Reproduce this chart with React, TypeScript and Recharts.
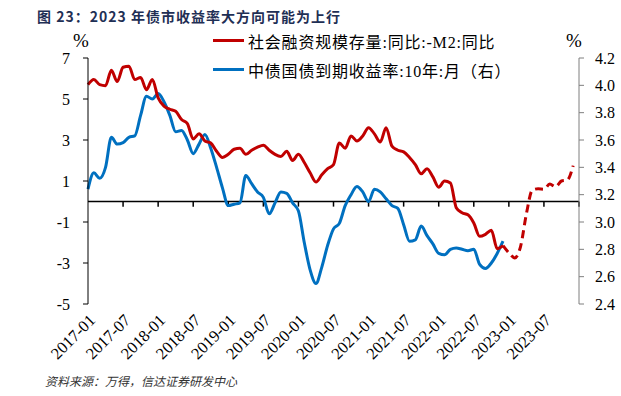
import React from "react";
import {
  LineChart,
  Line,
  XAxis,
  YAxis,
  ReferenceLine,
} from "recharts";

// x tick labels (every 6 months, index 0 = 2017-01)
const tickLabels = [
  "2017-01", "2017-07", "2018-01", "2018-07", "2019-01", "2019-07", "2020-01",
  "2020-07", "2021-01", "2021-07", "2022-01", "2022-07", "2023-01", "2023-07",
];
const tickIdx = tickLabels.map((_, i) => i * 6);

// 社融存量同比 - M2同比, monthly 2017-01 .. 2022-12
const tsfMinusM2 = [
  5.7, 5.95, 5.7, 5.65, 6.4, 5.85, 6.55, 6.6, 5.95, 6.05, 5.45, 5.95,
  5.05, 4.65, 4.5, 4.4, 4.0, 3.8, 3.05, 3.3, 2.95, 2.85, 2.45, 2.15,
  2.3, 2.55, 2.6, 2.3, 2.5, 2.65, 2.75, 2.5, 2.3, 2.2, 2.45, 2.0,
  2.3, 1.9, 1.4, 0.95, 1.3, 1.6, 1.8, 2.85, 2.6, 3.2, 2.95, 3.2,
  3.6, 3.3, 2.9, 3.6, 2.7, 2.5, 2.42, 2.15, 1.8, 1.35, 1.6, 1.2,
  0.7, 1.0, 0.9, -0.3, -0.55, -0.65, -1.05, -1.7, -1.6, -1.4, -2.3, -2.15,
];

// projection, 2022-12 .. 2023-12
const forecastStart = 71;
const tsfForecast = [-2.15, -2.5, -2.75, -2.2, -0.6, 0.55, 0.62, 0.6, 0.85, 0.72, 1.0, 1.05, 1.75];

// 中债国债到期收益率:10年, monthly 2017-01 .. 2022-12
const cgb10y = [
  3.24, 3.36, 3.32, 3.4, 3.62, 3.57, 3.58, 3.62, 3.63, 3.78, 3.92, 3.9,
  3.94, 3.88, 3.78, 3.66, 3.67, 3.6, 3.5, 3.57, 3.64, 3.54, 3.4, 3.25,
  3.12, 3.13, 3.14, 3.34, 3.28, 3.22, 3.18, 3.06, 3.14, 3.22, 3.21, 3.14,
  3.08, 2.85, 2.65, 2.55, 2.67, 2.83, 2.95, 2.99, 3.12, 3.2, 3.26, 3.22,
  3.15, 3.24, 3.22, 3.17, 3.12, 3.1, 2.98, 2.86, 2.87, 2.97, 2.9, 2.84,
  2.77, 2.76, 2.8, 2.81, 2.8, 2.79, 2.8, 2.69, 2.66, 2.7, 2.77, 2.86,
];

const leftTicks = [-5, -3, -1, 1, 3, 5, 7];
const rightTicks = [2.4, 2.6, 2.8, 3.0, 3.2, 3.4, 3.6, 3.8, 4.0, 4.2];

const RED = "#C00000";
const BLUE = "#0070C0";
const SERIF = '"Liberation Serif", "Times New Roman", "Noto Sans CJK SC", serif';
const CJK = '"Noto Sans CJK SC", "Liberation Sans", sans-serif';

const monthCount = forecastStart + tsfForecast.length;
const chartData = Array.from({ length: monthCount }, (_, i) => ({
  idx: i,
  red: i < tsfMinusM2.length ? tsfMinusM2[i] : null,
  redF: i >= forecastStart ? tsfForecast[i - forecastStart] : null,
  blue: i < cgb10y.length ? cgb10y[i] : null,
}));

const labelFor = (v: number) => tickLabels[v / 6] ?? "";

export default function App() {
  return (
    <div
      style={{
        position: "absolute",
        left: 0,
        top: 0,
        width: 621,
        height: 396,
        background: "#fff",
        fontFamily: SERIF,
      }}
    >
      <div
        style={{
          position: "absolute",
          left: 37,
          top: 6,
          fontFamily: CJK,
          fontWeight: 700,
          fontSize: 14,
          letterSpacing: 1,
          color: "#1f2f55",
          whiteSpace: "nowrap",
        }}
      >
        图 23：2023 年债市收益率大方向可能为上行
      </div>

      <LineChart
        width={621}
        height={396}
        data={chartData}
        margin={{ top: 58, right: 0, bottom: 0, left: 0 }}
      >
        <XAxis
          dataKey="idx"
          type="number"
          domain={[0, 84]}
          ticks={tickIdx}
          interval={0}
          tickFormatter={labelFor}
          axisLine={false}
          tickLine={false}
          tickSize={0}
          tickMargin={9}
          height={92}
          angle={-45}
          textAnchor="end"
          tick={{ fontSize: 16.5, fill: "#000", fontFamily: SERIF }}
        />
        <YAxis
          yAxisId="left"
          domain={[-5, 7]}
          ticks={leftTicks}
          interval={0}
          width={88}
          tickSize={5}
          tickMargin={13}
          axisLine={{ stroke: "#000" }}
          tickLine={{ stroke: "#000" }}
          tick={{ fontSize: 16, fill: "#000", fontFamily: SERIF }}
        />
        <YAxis
          yAxisId="right"
          orientation="right"
          domain={[2.4, 4.2]}
          ticks={rightTicks}
          interval={0}
          width={42}
          tickSize={5}
          tickMargin={11}
          tickFormatter={(v: number) => v.toFixed(1)}
          axisLine={{ stroke: "#7f7f7f" }}
          tickLine={{ stroke: "#7f7f7f" }}
          tick={{ fontSize: 16, fill: "#000", fontFamily: SERIF }}
        />
        <ReferenceLine yAxisId="left" y={0} stroke="#000" strokeWidth={1.5} />
        {tickIdx.slice(1).concat([84]).map((t) => (
          <ReferenceLine
            key={t}
            yAxisId="left"
            segment={[
              { x: t, y: 0 },
              { x: t, y: -0.25 },
            ]}
            stroke="#000"
            strokeWidth={1.5}
          />
        ))}
        <Line
          yAxisId="right"
          dataKey="blue"
          type="monotone"
          stroke={BLUE}
          strokeWidth={3}
          dot={false}
          isAnimationActive={false}
        />
        <Line
          yAxisId="left"
          dataKey="red"
          type="monotone"
          stroke={RED}
          strokeWidth={3}
          dot={false}
          isAnimationActive={false}
        />
        <Line
          yAxisId="left"
          dataKey="redF"
          type="monotone"
          stroke={RED}
          strokeWidth={3}
          strokeDasharray="8 5"
          dot={false}
          isAnimationActive={false}
        />
      </LineChart>

      {/* unit labels */}
      <div style={{ position: "absolute", left: 73, top: 30, fontSize: 19 }}>%</div>
      <div style={{ position: "absolute", left: 566, top: 30, fontSize: 19 }}>%</div>

      {/* legend */}
      <div style={{ position: "absolute", left: 213, top: 39, width: 31, height: 3, background: RED }} />
      <div
        style={{
          position: "absolute",
          left: 248,
          top: 29,
          fontSize: 16,
          fontFamily: SERIF,
          letterSpacing: 0.8,
          whiteSpace: "nowrap",
        }}
      >
        社会融资规模存量:同比:-M2:同比
      </div>
      <div style={{ position: "absolute", left: 213, top: 68, width: 31, height: 3, background: BLUE }} />
      <div
        style={{
          position: "absolute",
          left: 248,
          top: 58,
          fontSize: 16,
          fontFamily: SERIF,
          letterSpacing: 0.8,
          whiteSpace: "nowrap",
        }}
      >
        中债国债到期收益率:10年:月（右）
      </div>

      <div
        style={{
          position: "absolute",
          left: 45,
          top: 372,
          fontSize: 12,
          fontStyle: "italic",
          fontFamily: CJK,
          color: "#333",
          whiteSpace: "nowrap",
        }}
      >
        资料来源：万得，信达证券研发中心
      </div>
    </div>
  );
}
